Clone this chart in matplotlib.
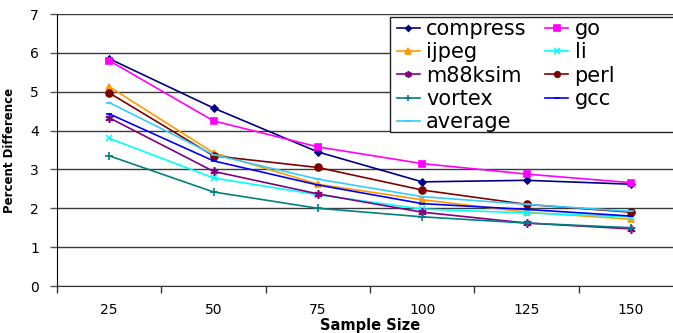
import matplotlib
matplotlib.use('Agg')
import matplotlib.pyplot as plt
from matplotlib.patches import Rectangle
import numpy as np

# data
sizes = ['25', '50', '75', '100', '125', '150']
compress = [5.85, 4.58, 3.45, 2.68, 2.72, 2.62]
go = [5.80, 4.25, 3.58, 3.15, 2.88, 2.66]
ijpeg = [5.13, 3.43, 2.62, 2.22, 1.90, 1.72]
li = [3.80, 2.78, 2.35, 1.98, 1.88, 1.78]
m88ksim = [4.33, 2.95, 2.37, 1.90, 1.62, 1.47]
perl = [4.97, 3.35, 3.05, 2.47, 2.10, 1.90]
vortex = [3.35, 2.42, 2.00, 1.78, 1.62, 1.50]
gcc = [4.43, 3.22, 2.60, 2.12, 1.97, 1.80]
average = [4.72, 3.38, 2.75, 2.30, 2.10, 1.92]

series = [
    ('compress', compress, '#000080', 'D', 3.5),
    ('go', go, '#FF00FF', 's', 5),
    ('ijpeg', ijpeg, '#FF9900', '^', 5),
    ('li', li, '#00FFFF', 'x', 5),
    ('m88ksim', m88ksim, '#800080', (6, 2, 0), 6),
    ('perl', perl, '#800000', 'o', 5),
    ('vortex', vortex, '#008080', '+', 6),
    ('gcc', gcc, '#0000FF', '_', 5),
    ('average', average, '#33CCFF', '_', 5),
]

fig = plt.figure(figsize=(6.73, 3.33), dpi=100)
ax = fig.add_axes([57 / 673, 47 / 333, 626 / 673, 272 / 333])

x = np.arange(1, len(sizes) + 1)
handles = {}
for name, vals, col, mk, ms in series:
    h, = ax.plot(x, vals, color=col, marker=mk, markersize=ms, lw=1.2,
                 markeredgewidth=1.2, label=name)
    handles[name] = h

ax.set_xlim(0.5, 6.5)
ax.set_ylim(0, 7)
ax.set_yticks(range(0, 8))
ax.yaxis.grid(True, color='#3a3a3a', lw=1)
ax.set_axisbelow(True)
ax.tick_params(axis='y', labelsize=10, length=5, width=1, color='#555555', pad=8)

ax.set_xticks(np.arange(0.5, 7.0, 1.0))
ax.set_xticklabels([])
ax.set_xticks(x, minor=True)
ax.set_xticklabels(sizes, minor=True)
ax.tick_params(axis='x', which='major', length=5, width=1, color='#333333')
ax.tick_params(axis='x', which='minor', length=0, labelsize=10, pad=12)

for s in ['top', 'right']:
    ax.spines[s].set_visible(False)
ax.spines['left'].set_color('black')
ax.spines['bottom'].set_color('#333333')

ax.set_xlabel('Sample Size', fontsize=10.5, fontweight='bold', labelpad=1)
ax.set_ylabel('Percent Difference', fontsize=8.5, fontweight='bold', labelpad=10)

# legend box runs off the right edge like in the original
fig.patches.append(Rectangle((390 / 673, 1 - 132 / 333), 300 / 673, 115 / 333,
                             transform=fig.transFigure, facecolor='white',
                             edgecolor='#222222', lw=1, zorder=5))
order = ['compress', 'ijpeg', 'm88ksim', 'vortex', 'average', 'go', 'li', 'perl', 'gcc']
leg = fig.legend([handles[n] for n in order], order, ncol=2, loc='upper left',
                 bbox_to_anchor=(397 / 673, 1 - 19 / 333), fontsize=15,
                 frameon=False, markerscale=0.8,
                 handlelength=1.1, handletextpad=0.3, columnspacing=0.9,
                 labelspacing=0.16, borderpad=0, borderaxespad=0)
leg.set_zorder(6)

fig.savefig('out.png', dpi=100)
